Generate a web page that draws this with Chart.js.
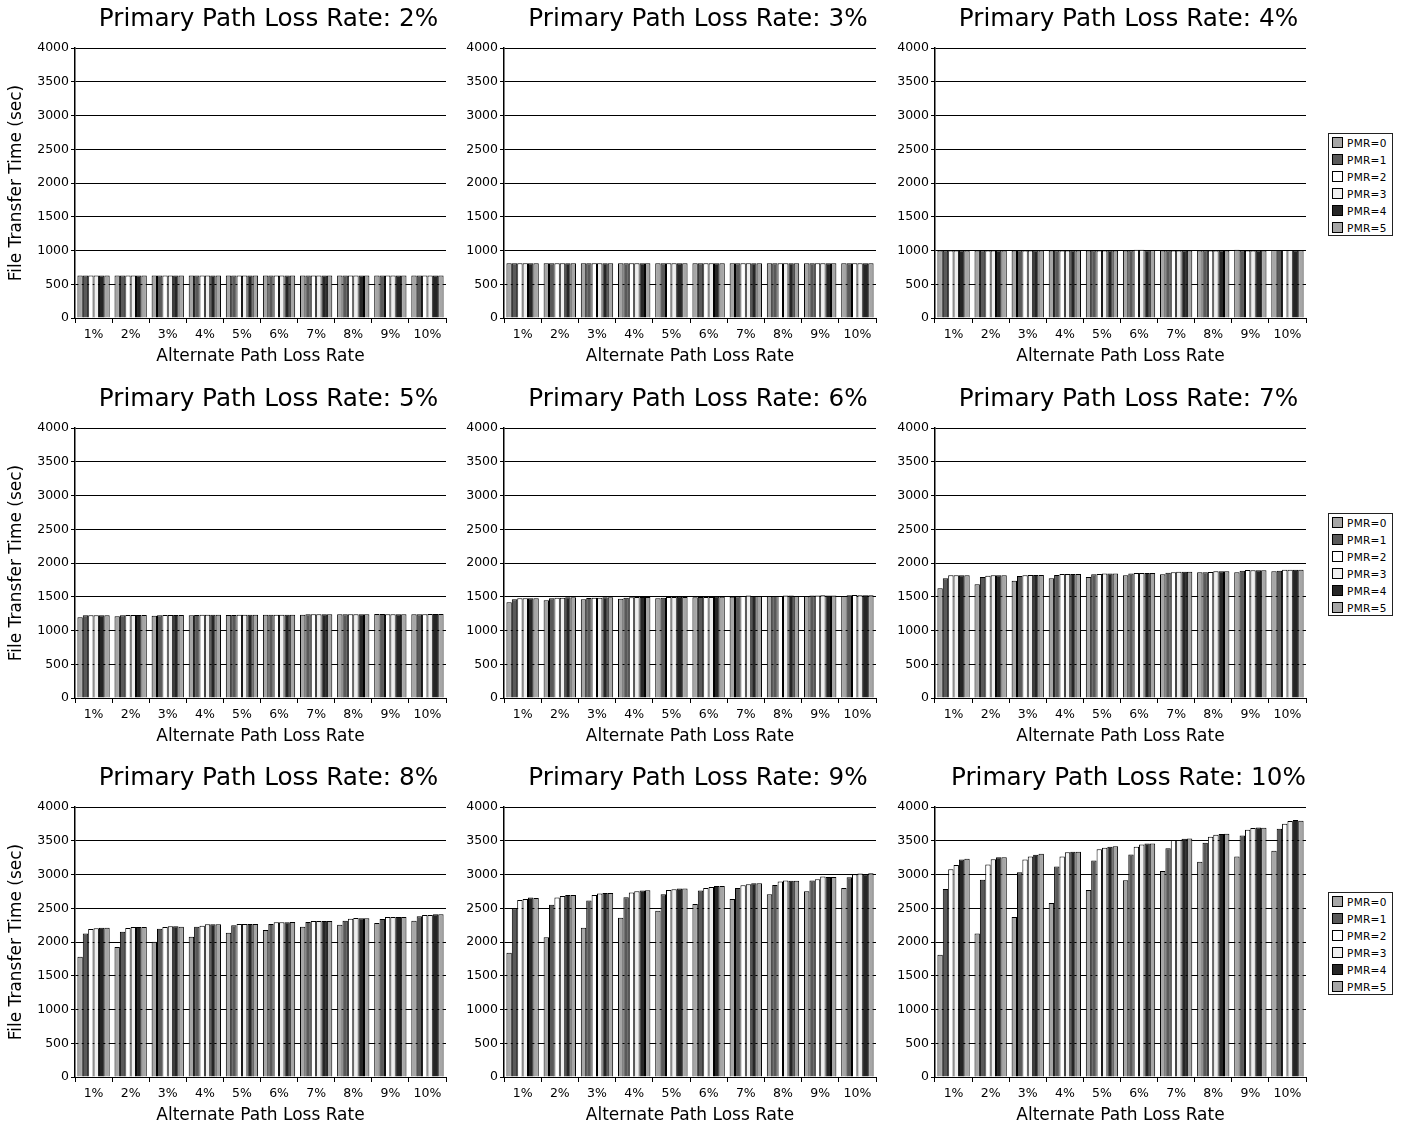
<!DOCTYPE html>
<html>
<head>
<meta charset="utf-8">
<title>File Transfer Time</title>
<script src="https://cdn.jsdelivr.net/npm/chart.js@4.4.1/dist/chart.umd.min.js"></script>
<style>
  html, body { margin: 0; padding: 0; background: #fff; }
  #page { position: relative; width: 1402px; height: 1125px; overflow: hidden; font-family: 'DejaVu Sans', sans-serif; }
  #page canvas { position: absolute; }
  .legend { position: absolute; width: 63px; height: 101px; border: 1px solid #222; background: #fff; }
  .legend-row { position: absolute; left: 3px; height: 17px; display: flex; align-items: center; font-size: 10.5px; letter-spacing: 0.3px; color: #000; }
  .legend-swatch { width: 9px; height: 9px; border: 1px solid #000; margin-right: 4px; }
</style>
</head>
<body>
<div id="page"></div>
<script>
const altRates = ['1%', '2%', '3%', '4%', '5%', '6%', '7%', '8%', '9%', '10%'];
const primaryRates = ['2%', '3%', '4%', '5%', '6%', '7%', '8%', '9%', '10%'];
const pmrLabels = ['PMR=0', 'PMR=1', 'PMR=2', 'PMR=3', 'PMR=4', 'PMR=5'];
const yTicks = [0, 500, 1000, 1500, 2000, 2500, 3000, 3500, 4000];

// one row per PMR value, one column per alternate path loss rate
const plr2 = [
  [628, 628, 628, 628, 628, 628, 628, 628, 628, 628],
  [628, 628, 628, 628, 628, 628, 628, 628, 628, 628],
  [628, 628, 628, 628, 628, 628, 628, 628, 628, 628],
  [628, 628, 628, 628, 628, 628, 628, 628, 628, 628],
  [628, 628, 628, 628, 628, 628, 628, 628, 628, 628],
  [628, 628, 628, 628, 628, 628, 628, 628, 628, 628],
];
const plr3 = [
  [812, 812, 812, 812, 812, 812, 812, 812, 812, 812],
  [812, 812, 812, 812, 812, 812, 812, 812, 812, 812],
  [812, 812, 812, 812, 812, 812, 812, 812, 812, 812],
  [812, 812, 812, 812, 812, 812, 812, 812, 812, 812],
  [812, 812, 812, 812, 812, 812, 812, 812, 812, 812],
  [812, 812, 812, 812, 812, 812, 812, 812, 812, 812],
];
const plr4 = [
  [1000, 1000, 1000, 1000, 1000, 1000, 1000, 1000, 1010, 1008],
  [1000, 1000, 1000, 1000, 1000, 1000, 1000, 1000, 1000, 1008],
  [1000, 1000, 1000, 1000, 1000, 1010, 1000, 1000, 1000, 1008],
  [1000, 1000, 1000, 1000, 1000, 1010, 1000, 1000, 1000, 1008],
  [1000, 1000, 1000, 1000, 1000, 1005, 1000, 1000, 1000, 1005],
  [1000, 1000, 1000, 1000, 1000, 1005, 1000, 1000, 1000, 1005],
];
const plr5 = [
  [1195, 1210, 1220, 1225, 1228, 1235, 1235, 1240, 1245, 1240],
  [1225, 1225, 1225, 1230, 1230, 1235, 1240, 1240, 1245, 1240],
  [1225, 1230, 1230, 1235, 1235, 1235, 1240, 1240, 1240, 1242],
  [1225, 1230, 1230, 1235, 1235, 1235, 1240, 1240, 1240, 1245],
  [1225, 1230, 1230, 1235, 1235, 1235, 1240, 1240, 1240, 1245],
  [1225, 1230, 1230, 1235, 1235, 1235, 1240, 1240, 1240, 1245],
];
const plr6 = [
  [1418, 1447, 1462, 1472, 1477, 1492, 1502, 1507, 1507, 1512],
  [1462, 1477, 1482, 1487, 1487, 1497, 1507, 1512, 1517, 1522],
  [1477, 1487, 1487, 1492, 1497, 1497, 1512, 1512, 1517, 1526],
  [1477, 1487, 1487, 1497, 1497, 1497, 1517, 1517, 1522, 1522],
  [1477, 1492, 1492, 1497, 1502, 1502, 1512, 1517, 1517, 1522],
  [1477, 1492, 1492, 1497, 1497, 1502, 1512, 1512, 1517, 1522],
];
const plr7 = [
  [1625, 1684, 1739, 1773, 1793, 1818, 1833, 1862, 1862, 1877],
  [1773, 1793, 1808, 1823, 1833, 1843, 1857, 1862, 1887, 1887],
  [1818, 1813, 1818, 1838, 1838, 1853, 1862, 1867, 1897, 1902],
  [1818, 1818, 1823, 1838, 1843, 1853, 1872, 1877, 1892, 1902],
  [1818, 1818, 1823, 1838, 1843, 1853, 1872, 1877, 1892, 1902],
  [1818, 1818, 1823, 1838, 1843, 1853, 1872, 1877, 1892, 1902],
];
const plr8 = [
  [1782, 1926, 2005, 2079, 2138, 2178, 2228, 2257, 2282, 2317],
  [2128, 2153, 2198, 2228, 2247, 2267, 2297, 2317, 2341, 2381],
  [2193, 2208, 2223, 2242, 2267, 2292, 2312, 2346, 2371, 2401],
  [2203, 2223, 2232, 2262, 2267, 2292, 2312, 2356, 2371, 2401],
  [2213, 2223, 2232, 2262, 2267, 2292, 2312, 2351, 2371, 2411],
  [2213, 2223, 2228, 2262, 2267, 2297, 2312, 2351, 2371, 2411],
];
const plr9 = [
  [1841, 2069, 2213, 2361, 2465, 2564, 2638, 2708, 2752, 2802],
  [2500, 2554, 2614, 2663, 2708, 2762, 2802, 2846, 2911, 2960],
  [2623, 2658, 2698, 2732, 2772, 2802, 2841, 2896, 2930, 3005],
  [2638, 2683, 2718, 2752, 2782, 2817, 2856, 2911, 2970, 3015],
  [2658, 2698, 2727, 2762, 2792, 2831, 2871, 2906, 2965, 3005],
  [2653, 2698, 2727, 2767, 2792, 2831, 2871, 2906, 2965, 3020],
];
const plr10 = [
  [1812, 2128, 2371, 2579, 2772, 2916, 3054, 3188, 3267, 3351],
  [2787, 2921, 3034, 3119, 3208, 3297, 3391, 3470, 3579, 3678],
  [3079, 3148, 3222, 3267, 3376, 3411, 3510, 3559, 3663, 3752],
  [3143, 3227, 3267, 3331, 3396, 3445, 3510, 3589, 3688, 3792],
  [3222, 3257, 3292, 3336, 3411, 3460, 3529, 3599, 3698, 3807],
  [3232, 3257, 3307, 3336, 3420, 3460, 3534, 3604, 3693, 3797],
];
const panels = [plr2, plr3, plr4, plr5, plr6, plr7, plr8, plr9, plr10];

const pmrColors = ['#a6a6a6', '#595959', '#ffffff', '#efefef', '#262626', '#a6a6a6'];

Chart.defaults.font.family = "'DejaVu Sans', sans-serif";
Chart.defaults.color = '#000';

// nudge the title a little to the right, as in the original figure
const titleShift = {
  id: 'titleShift',
  afterLayout(chart) {
    if (chart.titleBlock) {
      chart.titleBlock.left += 8;
      chart.titleBlock.right += 8;
    }
  },
};

const page = document.getElementById('page');
const plotLefts = [75, 504, 935];
const plotRights = [446, 876, 1306];
const plotTops = [48, 428, 807];
const plotH = 270;

panels.forEach((rows, i) => {
  const r = Math.floor(i / 3);
  const c = i % 3;
  const yAxisW = c === 0 ? 75 : 45;
  const left = plotLefts[c] - yAxisW;
  const top = plotTops[r] - 48;
  const width = plotRights[c] - left + 4;
  const height = 48 + plotH + 54;

  const canvas = document.createElement('canvas');
  canvas.width = width;
  canvas.height = height;
  canvas.style.left = left + 'px';
  canvas.style.top = top + 'px';
  page.appendChild(canvas);

  new Chart(canvas.getContext('2d'), {
    type: 'bar',
    data: {
      labels: altRates,
      datasets: rows.map((vals, k) => ({
        label: pmrLabels[k],
        data: vals,
        backgroundColor: pmrColors[k],
        borderColor: '#000',
        borderWidth: 1,
        categoryPercentage: 0.87,
        barPercentage: 1.0,
      })),
    },
    plugins: [titleShift],
    options: {
      responsive: false,
      animation: false,
      layout: { padding: { left: 0, right: 4, top: 0, bottom: 0 } },
      plugins: {
        legend: { display: false },
        tooltip: { enabled: false },
        title: {
          display: true,
          text: 'Primary Path Loss Rate: ' + primaryRates[i],
          fullSize: false,
          font: { size: 24.7, weight: 'normal' },
          padding: { top: 5.2, bottom: 13.2 },
          color: '#000',
        },
      },
      scales: {
        x: {
          grid: { display: true, offset: true, drawOnChartArea: false, tickLength: 5, color: '#000' },
          border: { color: '#000', width: 1 },
          ticks: { font: { size: 12.5 }, padding: 4, maxRotation: 0, color: '#000' },
          title: {
            display: true,
            text: 'Alternate Path Loss Rate',
            font: { size: 17 },
            padding: { top: 0, bottom: 4.8 },
            color: '#000',
          },
          afterFit: (s) => { s.height = 54; },
        },
        y: {
          min: 0,
          max: 4000,
          afterBuildTicks: (s) => { s.ticks = yTicks.map((v) => ({ value: v })); },
          grid: { color: '#000', lineWidth: 1, tickLength: 4 },
          border: { color: '#000', width: 1.5 },
          ticks: { font: { size: 12.5 }, padding: 2, color: '#000', callback: (v) => String(v) },
          title: {
            display: c === 0,
            text: 'File Transfer Time (sec)',
            font: { size: 17 },
            padding: { top: 6.8, bottom: 0 },
            color: '#000',
          },
          afterFit: (s) => { s.width = yAxisW; },
        },
      },
    },
  });

  if (c === 2) {
    const box = document.createElement('div');
    box.className = 'legend';
    box.style.left = '1328px';
    box.style.top = (plotTops[r] + 85) + 'px';
    pmrLabels.forEach((name, k) => {
      const row = document.createElement('div');
      row.className = 'legend-row';
      row.style.top = (k * 17) + 'px';
      row.innerHTML = `<span class="legend-swatch" style="background:${pmrColors[k]}"></span>${name}`;
      box.appendChild(row);
    });
    page.appendChild(box);
  }
});
</script>
</body>
</html>
